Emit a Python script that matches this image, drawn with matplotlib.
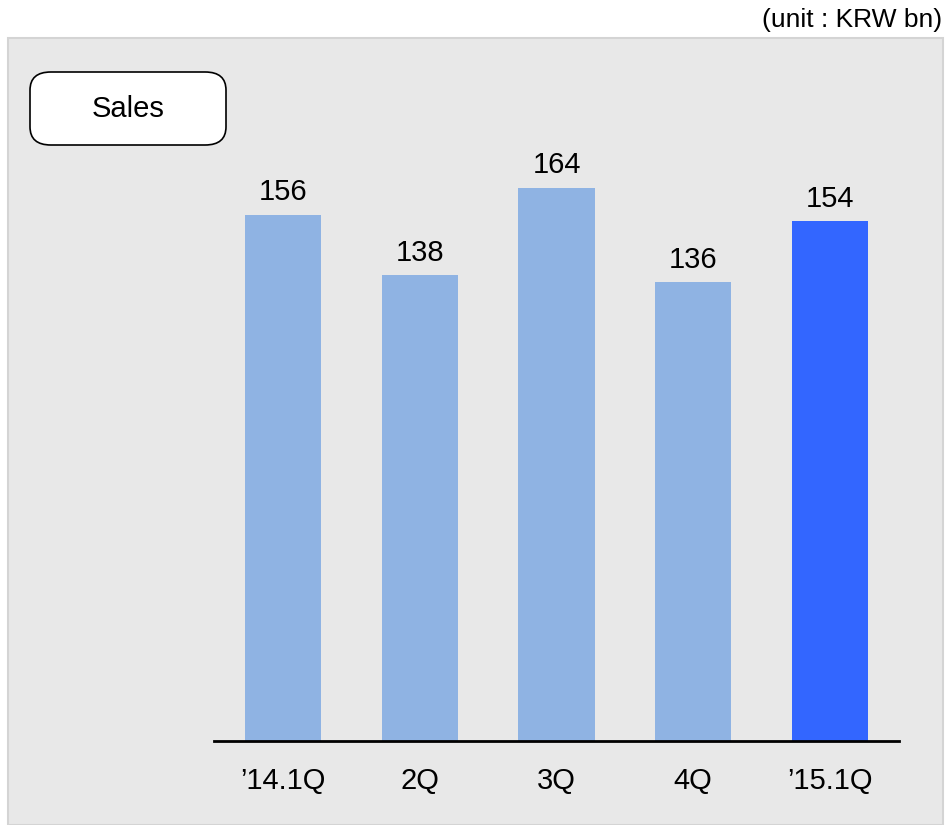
import matplotlib.pyplot as plt
from matplotlib.patches import FancyBboxPatch, Rectangle

quarters = ["\u201914.1Q", "2Q", "3Q", "4Q", "\u201915.1Q"]
sales = [156, 138, 164, 136, 154]
bar_colors = ["#8fb3e3", "#8fb3e3", "#8fb3e3", "#8fb3e3", "#3366ff"]

plt.rcParams['font.family'] = ['Liberation Sans', 'DejaVu Sans']

W, H = 946, 825
fig = plt.figure(figsize=(W / 100, H / 100), dpi=100)
fig.patch.set_facecolor("white")

# grey background panel
fig.patches.append(Rectangle((8 / W, 0), (943 - 8) / W, (H - 38) / H,
                             transform=fig.transFigure, facecolor="#e8e8e8",
                             edgecolor="#d4d4d4", linewidth=1.5, zorder=0))

# title box
fig.patches.append(FancyBboxPatch((30 / W, (H - 145) / H), 196 / W, 73 / H,
                                  boxstyle="round,pad=0,rounding_size=0.022",
                                  transform=fig.transFigure, facecolor="white",
                                  edgecolor="black", linewidth=1.2, zorder=1))
fig.text(128 / W, (H - 109) / H, "Sales", ha="center", va="center", fontsize=21)
fig.text(942 / W, (H - 20) / H, "(unit : KRW bn)", ha="right", va="center", fontsize=19)

ax = fig.add_axes([214 / W, (H - 741) / H, (899 - 214) / W, 675 / H])
ax.set_zorder(3)
ax.patch.set_alpha(0)
x = range(len(sales))
ax.bar(x, sales, width=0.556, color=bar_colors)
for xi, v in zip(x, sales):
    ax.text(xi, v + 2.5, str(v), ha="center", va="bottom", fontsize=21)

ax.set_xlim(-0.505, 4.505)
ax.set_ylim(0, 200)
ax.set_xticks(list(x))
ax.set_xticklabels(quarters, fontsize=21)
ax.tick_params(axis="x", length=0, pad=19)
ax.set_yticks([])
for s in ["top", "right", "left"]:
    ax.spines[s].set_visible(False)
ax.spines["bottom"].set_linewidth(2)

fig.savefig("out.png", dpi=100)
